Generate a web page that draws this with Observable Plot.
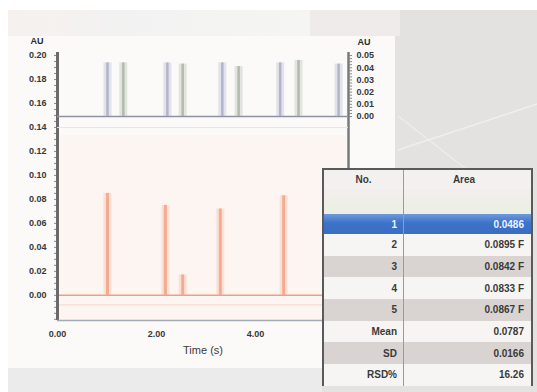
<!DOCTYPE html>
<html>
<head>
<meta charset="utf-8">
<script src="https://cdn.jsdelivr.net/npm/d3@7"></script>
<script src="https://cdn.jsdelivr.net/npm/@observablehq/plot@0.6"></script>
<style>
  html, body { margin: 0; padding: 0; background: #ffffff; }
  #wrap { position: relative; width: 537px; height: 392px; overflow: hidden; font-family: "Liberation Sans", Arial, sans-serif; }
  .bg { position: absolute; }
  .layer { position: absolute; left: 0; top: 0; }
  #table { position: absolute; left: 322px; top: 168px; width: 207px; border: 2px solid #5a5a5a; border-bottom: none; background: #f6f4f2; }
  #table .row { display: flex; height: 21.7px; align-items: center; font-size: 10px; font-weight: bold; color: #3a3a3a; }
  #table .c1 { width: 80px; text-align: right; padding-right: 6px; box-sizing: border-box; border-right: 1px solid #9a9a9a; height: 100%; display: flex; align-items: center; justify-content: flex-end; }
  #table .c2 { flex: 1; text-align: right; padding-right: 7px; box-sizing: border-box; height: 100%; display: flex; align-items: center; justify-content: flex-end; }
</style>
</head>
<body>
<div id="wrap">
  <div class="bg" style="left:8px;top:10px;width:529px;height:382px;background:#e4e1e1;"></div>
  <div class="bg" style="left:8px;top:10px;width:302px;height:26px;background:linear-gradient(90deg,#f6f1ee,#f2f2f2 40%,#f5f5f3);"></div>
  <div class="bg" style="left:310px;top:10px;width:90px;height:26px;background:#efebea;"></div>
  <div class="bg" style="left:8px;top:36px;width:387px;height:332px;background:#fbfaf9;"></div>
  <div class="bg" style="left:60px;top:135px;width:286px;height:185px;background:#fdf5f1;"></div>
  <div class="bg" style="left:8px;top:368px;width:314px;height:24px;background:#ebebeb;"></div>
  <svg class="layer" width="537" height="392">
    <line x1="398" y1="150" x2="537" y2="104" stroke="#f4f2f2" stroke-width="1.5" opacity="0.8"/>
    <line x1="398" y1="116" x2="470" y2="172" stroke="#f4f2f2" stroke-width="1.2" opacity="0.7"/>
  </svg>
  <div class="layer" id="lower"></div>
  <div class="layer" id="upper"></div>
  <div id="table"></div>
</div>
<script>
// Time axis
const timeTicks = [0, 2, 4];
const timeDomain = [0, 5.88];

// Lower trace (left axis, AU)
const leftTicks = [0, 0.02, 0.04, 0.06, 0.08, 0.10, 0.12, 0.14, 0.16, 0.18, 0.20];
const lowerPeakTimes = [1.01, 2.18, 2.53, 3.29, 4.57];
const lowerPeakHeights = [0.085, 0.075, 0.017, 0.072, 0.083];

// Upper trace (right axis, AU)
const rightTicks = [0, 0.01, 0.02, 0.03, 0.04, 0.05];
const upperPeakTimes = [1.01, 1.33, 2.22, 2.53, 3.33, 3.66, 4.50, 4.87, 5.68];
const upperPeakHeights = [0.044, 0.044, 0.044, 0.043, 0.044, 0.041, 0.044, 0.046, 0.043];
const upperPeakTone = ["a", "b", "a", "b", "a", "b", "a", "b", "a"];

// Results table
const tableNo = ["1", "2", "3", "4", "5", "Mean", "SD", "RSD%"];
const tableArea = ["0.0486", "0.0895 F", "0.0842 F", "0.0833 F", "0.0867 F", "0.0787", "0.0166", "16.26"];

const lowerPeaks = lowerPeakTimes.map((t, i) => ({t, h: lowerPeakHeights[i]}));
const upperPeaks = upperPeakTimes.map((t, i) => ({t, h: upperPeakHeights[i], tone: upperPeakTone[i]}));

const frame = {width: 537, height: 392, marginLeft: 57, marginRight: 189, marginTop: 52, marginBottom: 72};
const fmt = d3.format(".2f");
const axisStyle = {background: "transparent", fontFamily: "Liberation Sans, Arial, sans-serif", fontSize: "9px", fontWeight: "bold", color: "#383838", overflow: "visible"};

const lowerYDomain = [-0.021, 0.2025];
const lower = Plot.plot({
  ...frame,
  style: axisStyle,
  x: {domain: timeDomain},
  y: {domain: lowerYDomain},
  marks: [
    Plot.ruleY([0], {stroke: "#e9a184", strokeWidth: 1.6}),
    Plot.ruleY([-0.008], {stroke: "#f6d6c6", strokeWidth: 1}),
    Plot.ruleX(lowerPeaks, {x: "t", y1: 0, y2: "h", stroke: "#f5b9a0", strokeWidth: 8, strokeOpacity: 0.35}),
    Plot.ruleX(lowerPeaks, {x: "t", y1: 0, y2: "h", stroke: "#ef9f7f", strokeWidth: 3, strokeOpacity: 0.8}),
    Plot.axisY({ticks: d3.range(-0.02, 0.201, 0.005), tickSize: 3, tickFormat: () => "", stroke: "#8a8a8a", label: null}),
    Plot.axisY({ticks: leftTicks, tickFormat: fmt, tickSize: 0, tickPadding: 11, label: null}),
    Plot.ruleX([timeDomain[0]], {stroke: "#6a6a6a", strokeWidth: 3}),
    Plot.ruleX([timeDomain[1]], {stroke: "#7a7a7a", strokeWidth: 2.5}),
    Plot.ruleY([lowerYDomain[0]], {stroke: "#a4a9b6", strokeWidth: 1.5}),
    Plot.axisX({ticks: timeTicks, tickFormat: fmt, tickSize: 0, tickPadding: 10, label: null}),
    Plot.text(["Time (s)"], {frameAnchor: "bottom", dy: 33, fontSize: 11, fontWeight: "normal", fill: "#3a3a3a"}),
    Plot.text(["AU"], {frameAnchor: "top-left", dx: -27, dy: -15, fontSize: 9, fill: "#2a2a2a"})
  ]
});
document.getElementById("lower").append(lower);

const upper = Plot.plot({
  ...frame,
  style: axisStyle,
  x: {domain: timeDomain, axis: null},
  y: {domain: [-0.1672, 0.0525]},
  color: {domain: ["a", "b"], range: ["#a9abc8", "#a8b3a2"]},
  marks: [
    Plot.ruleY([0], {stroke: "#8e92a2", strokeWidth: 1.6}),
    Plot.ruleY([-0.009], {stroke: "#e4e6ec", strokeWidth: 1}),
    Plot.ruleX(upperPeaks, {x: "t", y1: 0, y2: "h", stroke: "tone", strokeWidth: 8, strokeOpacity: 0.3}),
    Plot.ruleX(upperPeaks, {x: "t", y1: 0, y2: "h", stroke: "tone", strokeWidth: 2.5, strokeOpacity: 0.85}),
    Plot.axisY({anchor: "right", ticks: d3.range(0, 0.0501, 0.0025), tickSize: 3, tickFormat: () => "", stroke: "#8a8a8a", label: null}),
    Plot.axisY({anchor: "right", ticks: rightTicks, tickFormat: fmt, tickSize: 0, tickPadding: 8, label: null}),
    Plot.text(["AU"], {frameAnchor: "top-right", textAnchor: "start", dx: 9, dy: -14, fontSize: 9, fill: "#2a2a2a"})
  ]
});
document.getElementById("upper").append(upper);

// Results table
const table = document.getElementById("table");
function addRow(a, b, bg, color) {
  const row = document.createElement("div");
  row.className = "row";
  row.style.background = bg;
  if (color) row.style.color = color;
  row.innerHTML = `<div class="c1">${a}</div><div class="c2">${b}</div>`;
  table.append(row);
  return row;
}
const head = addRow("No.", "Area", "#f3f1ef");
head.style.height = "19px";
head.children[0].style.justifyContent = "center";
head.children[0].style.paddingRight = "0";
head.children[1].style.justifyContent = "center";
const blank = addRow("", "", "linear-gradient(180deg,#f4eeee,#e9efe2)");
blank.style.height = "25px";
tableNo.forEach((no, i) => {
  let bg = i % 2 === 0 ? "#d9d4d1" : "#f7f5f3";
  let color = null;
  if (i === 0) { bg = "linear-gradient(180deg,#6f9ade,#3c72c8 45%,#3a6ec2)"; color = "#eef3ff"; }
  const r = addRow(no, tableArea[i], bg, color);
  if (i === 0) r.style.height = "20px";
});
</script>
</body>
</html>
